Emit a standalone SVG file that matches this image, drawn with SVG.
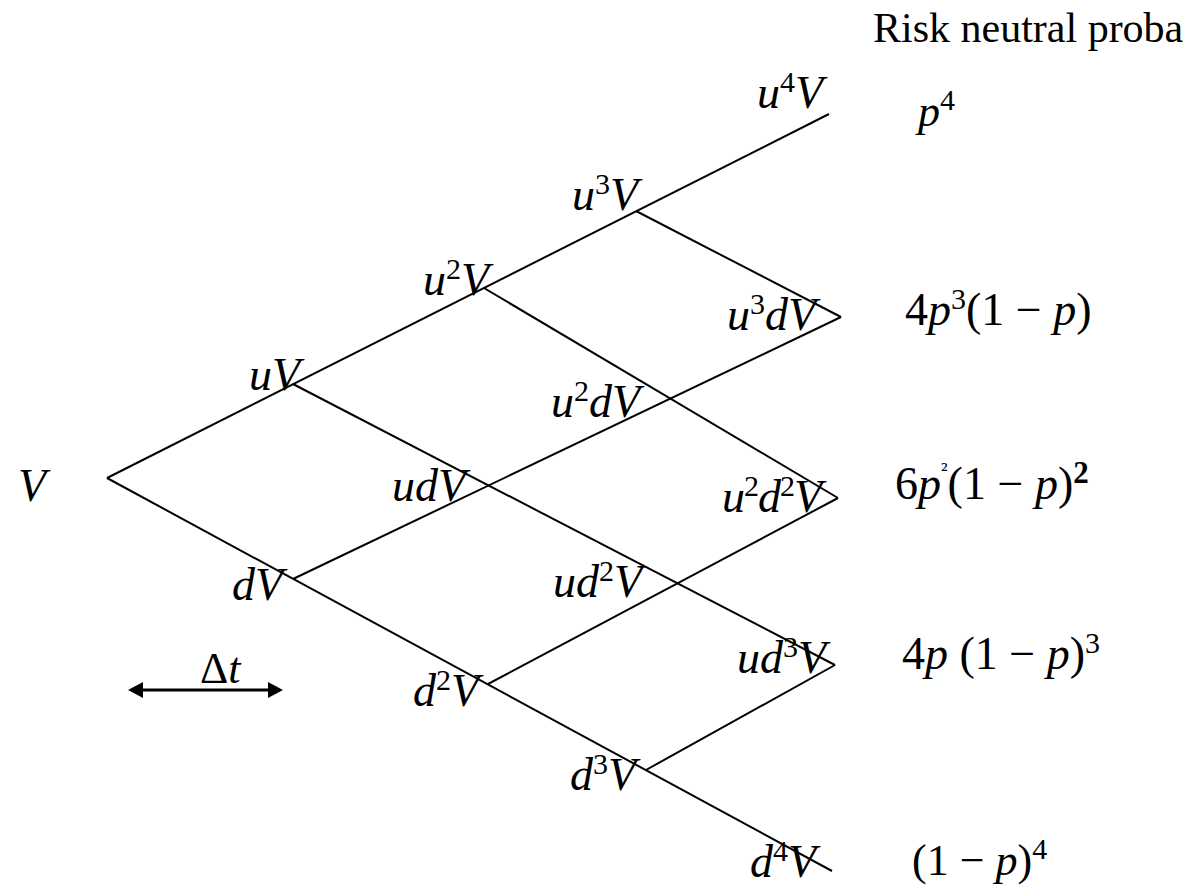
<svg xmlns="http://www.w3.org/2000/svg" width="1189" height="886" viewBox="0 0 1189 886">
<style>
text{font-family:"Liberation Serif","Times New Roman",serif;fill:#000}
.lab{font-size:46px;font-style:italic}
.pr{font-size:44px}
.pw{font-size:46px}
.i{font-style:italic}
.sup{font-size:30px;font-style:normal}
.edge{stroke:#000;stroke-width:2;fill:none}
</style>
<defs>
<marker id="ah" markerUnits="userSpaceOnUse" markerWidth="17" markerHeight="17" viewBox="0 0 17 17" refX="0" refY="8.5" orient="auto-start-reverse">
<path d="M0,0.5 L15,8.5 L0,16.5 z" fill="#000"/>
</marker>
</defs>
<rect width="1189" height="886" fill="#fff"/>
<g id="connectors">
<line class="edge" x1="107" y1="478" x2="829" y2="114"/>
<line class="edge" x1="107" y1="478" x2="832" y2="871"/>
<line class="edge" x1="293" y1="384" x2="835" y2="665"/>
<line class="edge" x1="484" y1="288" x2="838" y2="498"/>
<line class="edge" x1="636" y1="211" x2="841" y2="317"/>
<line class="edge" x1="293" y1="579" x2="841" y2="317"/>
<line class="edge" x1="488" y1="684" x2="838" y2="498"/>
<line class="edge" x1="646" y1="770" x2="835" y2="665"/>
<line x1="143" y1="690" x2="268" y2="690" stroke="#000" stroke-width="3" marker-start="url(#ah)" marker-end="url(#ah)"/>
</g>
<g id="title"><text x="873" y="42" font-size="42">Risk neutral proba</text></g>
<g id="dt"><text x="200" y="683" font-size="44">Δ<tspan class="i">t</tspan></text></g>
<g id="n-V"><text class="lab" x="18" y="501">V</text></g>
<g id="n-uV"><text class="lab" x="249" y="390">uV</text></g>
<g id="n-dV"><text class="lab" x="232" y="600">dV</text></g>
<g id="n-u2V"><text class="lab" x="423" y="295">u<tspan class="sup" dy="-16">2</tspan><tspan dy="16">V</tspan></text></g>
<g id="n-udV"><text class="lab" x="392" y="501">udV</text></g>
<g id="n-d2V"><text class="lab" x="413" y="706">d<tspan class="sup" dy="-16">2</tspan><tspan dy="16">V</tspan></text></g>
<g id="n-u3V"><text class="lab" x="572" y="210">u<tspan class="sup" dy="-16">3</tspan><tspan dy="16">V</tspan></text></g>
<g id="n-u2dV"><text class="lab" x="551" y="417">u<tspan class="sup" dy="-16">2</tspan><tspan dy="16">dV</tspan></text></g>
<g id="n-ud2V"><text class="lab" x="553" y="597">ud<tspan class="sup" dy="-16">2</tspan><tspan dy="16">V</tspan></text></g>
<g id="n-d3V"><text class="lab" x="570" y="790">d<tspan class="sup" dy="-16">3</tspan><tspan dy="16">V</tspan></text></g>
<g id="n-u4V"><text class="lab" x="757" y="108">u<tspan class="sup" dy="-16">4</tspan><tspan dy="16">V</tspan></text></g>
<g id="n-u3dV"><text class="lab" x="727" y="330">u<tspan class="sup" dy="-16">3</tspan><tspan dy="16">dV</tspan></text></g>
<g id="n-u2d2V"><text class="lab" x="722" y="512" letter-spacing="-1">u<tspan class="sup" dy="-16">2</tspan><tspan dy="16">d</tspan><tspan class="sup" dy="-16">2</tspan><tspan dy="16">V</tspan></text></g>
<g id="n-ud3V"><text class="lab" x="737" y="673">ud<tspan class="sup" dy="-16">3</tspan><tspan dy="16">V</tspan></text></g>
<g id="n-d4V"><text class="lab" x="750" y="877">d<tspan class="sup" dy="-16">4</tspan><tspan dy="16">V</tspan></text></g>
<g id="p-4"><text class="pr" x="918" y="126"><tspan class="i">p</tspan><tspan class="sup" dy="-16">4</tspan></text></g>
<g id="p-3"><text class="pw" x="905" y="325">4<tspan class="i">p</tspan><tspan class="sup" dy="-16">3</tspan><tspan dy="16">(1 − </tspan><tspan class="i">p</tspan>)</text></g>
<g id="p-2"><text class="pw" x="895" y="499">6<tspan class="i">p</tspan><tspan font-size="22" dy="-22">²</tspan><tspan dy="22">(1 − </tspan><tspan class="i">p</tspan>)<tspan font-size="31" font-weight="bold" dy="-16">2</tspan></text></g>
<g id="p-1"><text class="pw" x="902" y="669">4<tspan class="i">p</tspan> (1 − <tspan class="i">p</tspan>)<tspan class="sup" dy="-16">3</tspan></text></g>
<g id="p-0"><text class="pr" x="912" y="875">(1 − <tspan class="i">p</tspan>)<tspan class="sup" dy="-16">4</tspan></text></g>
</svg>
